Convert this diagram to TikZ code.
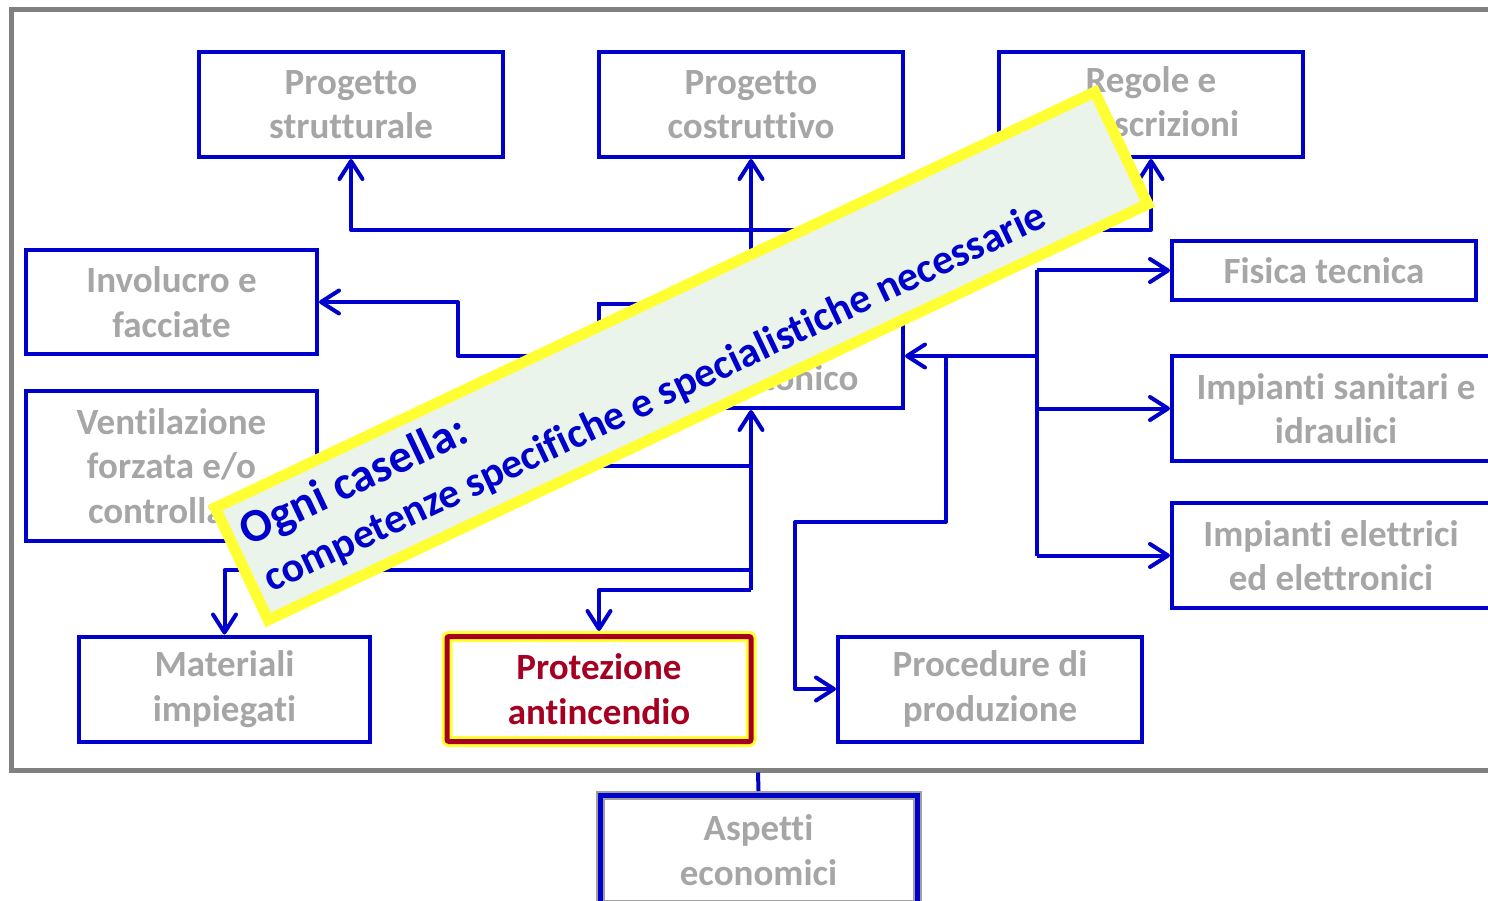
\documentclass[tikz,border=0pt]{standalone}
\usepackage{fontspec}
\setmainfont{Carlito}[Ligatures=NoCommon]
\usetikzlibrary{arrows.meta}
\definecolor{boxblue}{HTML}{0000CC}
\definecolor{txtgray}{HTML}{A6A6A6}
\definecolor{framegray}{HTML}{808080}
\definecolor{edgegray}{HTML}{A0A0A0}
\definecolor{firered}{HTML}{A50021}
\definecolor{glowyellow}{HTML}{FFFF33}
\definecolor{bannerfill}{HTML}{EBF4EB}
\begin{document}
\begin{tikzpicture}[x=1pt,y=-1pt,
  box/.style={draw=boxblue, line width=4pt, fill=white, text=txtgray,
    font=\bfseries\fontsize{37}{44.5}\selectfont, align=center, inner sep=0pt},
  link/.style={draw=boxblue, line width=4pt, line join=round},
  arr/.style={link, -{Straight Barb[length=18pt,width=23pt,round]}},
  bannertext/.style={text=boxblue, font=\bfseries\fontsize{42}{54}\selectfont,
    inner sep=0pt, anchor=base west}]
\useasboundingbox (0,0) rectangle (1488,901);

% outer frame of the project area
\draw[framegray, line width=5pt] (1510,9.5) -- (11.5,9.5) -- (11.5,770) -- (1510,770);

% disciplines
\node[box, minimum width=304pt, minimum height=105pt] (ps) at (351,104.5) {Progetto\\strutturale};
\node[box, minimum width=304pt, minimum height=105pt] (pc) at (751,104.5) {Progetto\\costruttivo};
\node[box, minimum width=304pt, minimum height=105pt] (rp) at (1151,104.5) {Regole e\\prescrizioni};
\node[box, minimum width=291pt, minimum height=104pt] (inv) at (171.5,302) {Involucro e\\facciate};
\node[box, minimum width=291pt, minimum height=150pt] (vent) at (171.5,466) {Ventilazione\\forzata e/o\\controllata};
\node[box, minimum width=304pt, minimum height=104pt] (arch) at (751,356) {Progetto\\architettonico};
\node[box, minimum width=304pt, minimum height=59pt] (fis) at (1324,270.5) {Fisica tecnica};
\node[box, minimum width=328pt, minimum height=105pt] (san) at (1336,408.5) {Impianti sanitari e\\idraulici};
\node[box, minimum width=318pt, minimum height=105pt] (ele) at (1331,555.5) {Impianti elettrici\\ed elettronici};
\node[box, minimum width=291pt, minimum height=105pt] (mat) at (224.5,689) {Materiali\\impiegati};
\node[box, minimum width=304pt, minimum height=105pt, draw=glowyellow, line width=11pt,
  rounded corners=2pt, text=firered,
  postaction={draw=firered, line width=5pt, sharp corners}] (prot) at (599,689) {Protezione\\antincendio};
\node[box, minimum width=304pt, minimum height=105pt] (proc) at (990,689) {Procedure di\\produzione};
\node[box, minimum width=317pt, minimum height=109pt, draw=edgegray, line width=9pt,
  postaction={draw=boxblue, line width=5pt}] (eco) at (758.5,850) {Aspetti\\economici};

% upper branches
\coordinate (jt) at (751,230);
\draw[arr] (arch.north) -- (pc.south);
\draw[arr] (jt) -| (ps.south);
\draw[arr] (jt) -| (rp.south);

% left branch to the envelope
\coordinate (kl) at (458,356);
\draw[arr] (arch.west) -- (kl) |- (inv.east);

% lower trunk
\coordinate (tb) at (751,590);
\coordinate (jm) at (751,570);
\draw[arr] (tb) -- (arch.south);
\draw[link] (arch.south |- vent.east) -- (vent.east);
\draw[arr] (jm) -| (mat.north);
\draw[arr] (tb) -| (prot.north);

% right trunk
\coordinate (rt) at (1037,356);
\draw[arr] (rt) -- (arch.east);
\draw[link] (rt |- fis.west) -- (rt |- ele.west);
\draw[arr] (rt |- fis.west) -- (fis.west);
\draw[arr] (rt |- san.west) -- (san.west);
\draw[arr] (rt |- ele.west) -- (ele.west);
\coordinate (pp) at (946,356);
\draw[arr] (pp) -- (946,522) -- (795,522) |- (proc.west);

% economics below the frame
\coordinate (fe) at (758,772.5);
\draw[link] (fe) -- (eco.north);

% slanted note
\begin{scope}[shift={(681.5,356)}, rotate=25.3, transform shape]
  \draw[draw=glowyellow, fill=bannerfill, line width=11pt] (-486.5,-62) rectangle (486.5,62);
  \node[bannertext, font=\bfseries\fontsize{47}{54}\selectfont] (n1) at (-473,-13) {Ogni casella:};
  \node[bannertext] (n2) at (-472,39) {competenze specifiche e specialistiche necessarie};
\end{scope}
\end{tikzpicture}
\end{document}
